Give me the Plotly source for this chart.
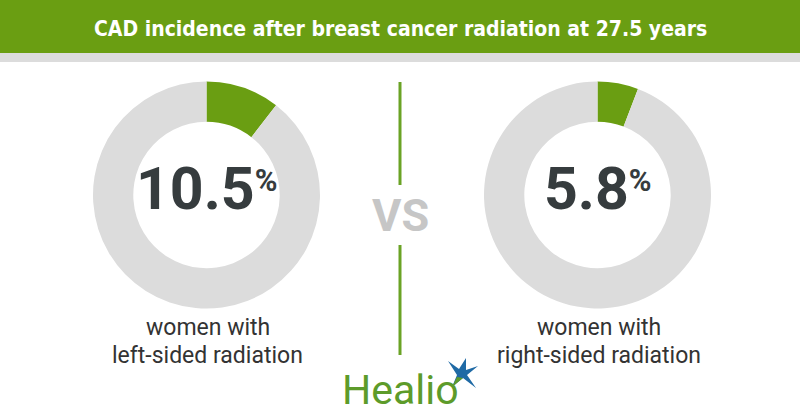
import plotly.graph_objects as go

# ---- data ----
title_text = "CAD incidence after breast cancer radiation at 27.5 years"
groups = ["left", "right"]
incidence = [10.5, 5.8]
label_line1 = ["women with", "women with"]
label_line2 = ["left-sided radiation", "right-sided radiation"]
vs_text = "VS"
brand_text = "Healio"

W, H = 800, 420
GREEN = "#6a9e12"
GRAY = "#dcdcdc"
DARK = "#363c3e"

def px(x):
    return x / W

def py(y):
    return 1 - y / H

centers = [(206.5, 195), (597.5, 195)]
R = 113.5

fig = go.Figure()
for (cx, cy), v in zip(centers, incidence):
    fig.add_trace(go.Pie(
        values=[v, 100 - v],
        labels=["CAD", "No CAD"],
        sort=False,
        direction="clockwise",
        rotation=0,
        hole=0.645,
        marker=dict(colors=[GREEN, GRAY], line=dict(width=0)),
        textinfo="none",
        hoverinfo="skip",
        showlegend=False,
        domain=dict(x=[px(cx - R), px(cx + R)], y=[py(cy + R), py(cy - R)]),
    ))

shapes = [
    dict(type="rect", xref="paper", yref="paper", x0=0, x1=1, y0=py(53), y1=1,
         fillcolor=GREEN, line=dict(width=0), layer="below"),
    dict(type="rect", xref="paper", yref="paper", x0=0, x1=1, y0=py(62), y1=py(53),
         fillcolor="#dcdcdc", line=dict(width=0), layer="below"),
    dict(type="line", xref="paper", yref="paper", x0=px(400), x1=px(400), y0=py(82), y1=py(185),
         line=dict(color="#6aa325", width=3)),
    dict(type="line", xref="paper", yref="paper", x0=px(400), x1=px(400), y0=py(245), y1=py(355),
         line=dict(color="#6aa325", width=3)),
]

# Healio star (logo decoration)
pts = [(448, 361), (459, 369), (466, 358), (466, 370), (478, 366), (467, 375), (476, 388), (463, 378), (452, 387), (457, 375)]
path = "M " + " L ".join(f"{px(x)},{py(y)}" for x, y in pts) + " Z"
shapes.append(dict(type="path", xref="paper", yref="paper", path=path,
                   fillcolor="#1f6aa5", line=dict(width=0)))
pts2 = [(452, 387), (457, 377), (463, 378)]
path2 = "M " + " L ".join(f"{px(x)},{py(y)}" for x, y in pts2) + " Z"
shapes.append(dict(type="path", xref="paper", yref="paper", path=path2,
                   fillcolor="#5d9b2a", line=dict(width=0)))

annotations = [
    dict(text=f"<b>{title_text}</b>", x=0.5, y=py(29), xref="paper", yref="paper",
         showarrow=False, xanchor="center", yanchor="middle",
         font=dict(family="Liberation Sans Narrow, DejaVu Sans Condensed, Roboto", size=21, color="white")),
    dict(text=vs_text, x=px(400), y=py(216), xref="paper", yref="paper",
         showarrow=False, xanchor="center", yanchor="middle",
         font=dict(family="Roboto", size=45, color="#c6c6c6", weight=700)),
    dict(text=brand_text, x=px(340), y=py(416), xref="paper", yref="paper",
         showarrow=False, xanchor="left", yanchor="bottom",
         font=dict(family="Roboto", size=41, color="#5d9b2a")),
]

for (cx, cy), v, l1, l2 in zip(centers, incidence, label_line1, label_line2):
    annotations.append(dict(
        text=f"{v}<span style='font-size:44px'><sup>%</sup></span>",
        x=px(cx), y=py(cy - 6), xref="paper", yref="paper",
        showarrow=False, xanchor="center", yanchor="middle",
        font=dict(family="Roboto", size=59, color=DARK, weight=700)))
    annotations.append(dict(
        text=l1, x=px(cx + 1), y=py(327), xref="paper", yref="paper",
        showarrow=False, xanchor="center", yanchor="middle",
        font=dict(family="Roboto", size=23, color="#333333")))
    annotations.append(dict(
        text=l2, x=px(cx + 1), y=py(355), xref="paper", yref="paper",
        showarrow=False, xanchor="center", yanchor="middle",
        font=dict(family="Roboto", size=23, color="#333333")))

fig.update_layout(
    width=W, height=H,
    margin=dict(l=0, r=0, t=0, b=0),
    paper_bgcolor="white", plot_bgcolor="white",
    shapes=shapes, annotations=annotations,
)

fig.write_html("out.html", config={"displayModeBar": False},
               post_script="document.body.style.margin='0';document.body.style.overflow='hidden';")
